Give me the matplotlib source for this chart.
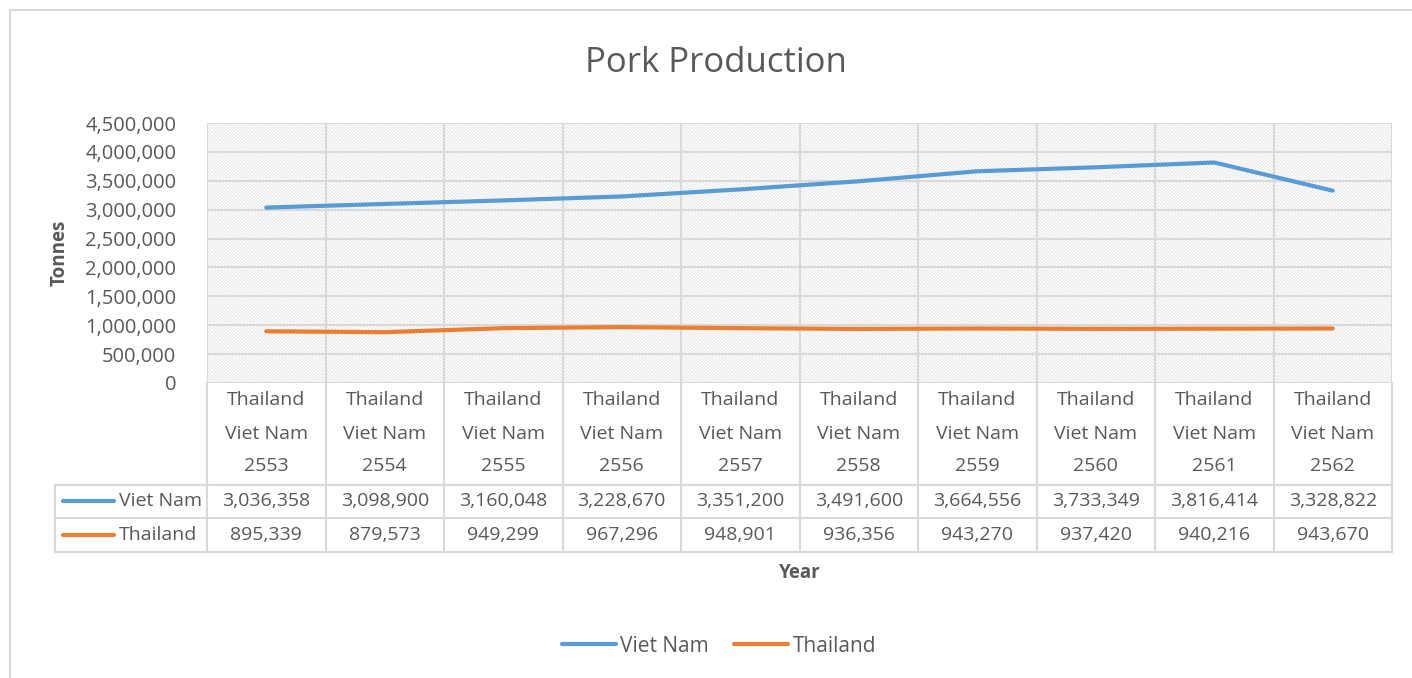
import matplotlib
matplotlib.use("Agg")
import matplotlib.pyplot as plt
from matplotlib.patches import Rectangle
from matplotlib.lines import Line2D
from matplotlib.transforms import blended_transform_factory
from matplotlib.ticker import FuncFormatter, MultipleLocator

years = ["2553", "2554", "2555", "2556", "2557", "2558", "2559", "2560", "2561", "2562"]
viet_nam = [3036358, 3098900, 3160048, 3228670, 3351200, 3491600, 3664556, 3733349, 3816414, 3328822]
thailand = [895339, 879573, 949299, 967296, 948901, 936356, 943270, 937420, 940216, 943670]
series_names = ["Viet Nam", "Thailand"]
colors = ["#5b9bd5", "#ed7d31"]

W, H = 1412, 678
plt.rcParams['font.family'] = ['Open Sans', 'DejaVu Sans']
TXT = "#595959"
GRID = "#d9d9d9"

fig = plt.figure(figsize=(W / 100, H / 100), dpi=100)
fy = lambda p: 1 - p / H
fx = lambda p: p / W

# chart border (right and bottom edges run past the image)
fig.patches.append(Rectangle((fx(10), fy(700)), fx(1420), 690 / H, transform=fig.transFigure,
                             fill=False, edgecolor=GRID, linewidth=1.5))

L, R, T, B = 207, 1392, 123, 383
ax = fig.add_axes([fx(L), fy(B), fx(R - L), (B - T) / H])
n = len(years)
x = list(range(n))
ax.set_xlim(-0.5, n - 0.5)
ax.set_ylim(0, 4500000)

plt.rcParams['hatch.linewidth'] = 0.6
ax.patch.set_facecolor('white')
hp = Rectangle((0, 0), 1, 1, transform=ax.transAxes, facecolor='white', edgecolor='#e0e0e0',
               hatch='\\' * 10, linewidth=0, zorder=0)
ax.add_patch(hp)

for s in ax.spines.values():
    s.set_visible(False)
ax.yaxis.set_major_locator(MultipleLocator(500000))
ax.yaxis.set_major_formatter(FuncFormatter(lambda v, p: f"{int(v):,}"))
ax.tick_params(axis='y', length=0, labelsize=14.5, labelcolor=TXT, pad=22)
ax.set_xticks([])
for yv in range(0, 4500001, 500000):
    ax.axhline(yv, color=GRID, linewidth=1.5, zorder=1)
for xb in [i - 0.5 for i in range(n + 1)]:
    ax.axvline(xb, color=GRID, linewidth=1.5, zorder=1)

ax.plot(x, viet_nam, color=colors[0], linewidth=3, zorder=3, solid_capstyle='round')
ax.plot(x, thailand, color=colors[1], linewidth=3, zorder=3, solid_capstyle='round')

fig.text(fx(716), fy(63), "Pork Production", ha='center', va='center', fontsize=25, color=TXT)
fig.text(fx(60), fy(253), "Tonnes", ha='center', va='center', rotation=90, fontsize=13.5,
         fontweight='bold', color=TXT)
fig.text(fx(800), fy(573), "Year", ha='center', va='center', fontsize=13.5,
         fontweight='bold', color=TXT)

# data table
tr = blended_transform_factory(ax.transData, fig.transFigure)
line_kw = dict(color=GRID, linewidth=1.5)
for xb in [i - 0.5 for i in range(n + 1)]:
    fig.add_artist(Line2D([xb, xb], [fy(383), fy(552)], transform=tr, **line_kw))
for yp in [485, 518, 552]:
    fig.add_artist(Line2D([fx(55), fx(R)], [fy(yp), fy(yp)], transform=fig.transFigure, **line_kw))
fig.add_artist(Line2D([fx(55), fx(55)], [fy(485), fy(552)], transform=fig.transFigure, **line_kw))

FS = 14
for i, yr in enumerate(years):
    for yp, t in [(400, series_names[1]), (434, series_names[0]), (466, yr)]:
        fig.text(i, fy(yp), t, transform=tr, ha='center', va='center', fontsize=FS, color=TXT)
    fig.text(i, fy(501), f"{viet_nam[i]:,}", transform=tr, ha='center', va='center', fontsize=FS, color=TXT)
    fig.text(i, fy(535), f"{thailand[i]:,}", transform=tr, ha='center', va='center', fontsize=FS, color=TXT)

for yp, name, c in [(501, series_names[0], colors[0]), (535, series_names[1], colors[1])]:
    fig.add_artist(Line2D([fx(63), fx(114)], [fy(yp), fy(yp)], transform=fig.transFigure,
                          color=c, linewidth=3, solid_capstyle='round'))
    fig.text(fx(119), fy(yp), name, ha='left', va='center', fontsize=FS, color=TXT)

# legend
handles = [Line2D([], [], color=c, linewidth=3, solid_capstyle='round') for c in colors]
fig.legend(handles, series_names, loc='center', bbox_to_anchor=(fx(719), fy(646)), ncol=2,
           frameon=False, fontsize=15, labelcolor=TXT, handlelength=2.6, handletextpad=0.2,
           columnspacing=1.2)

fig.savefig("out.png", dpi=100)
